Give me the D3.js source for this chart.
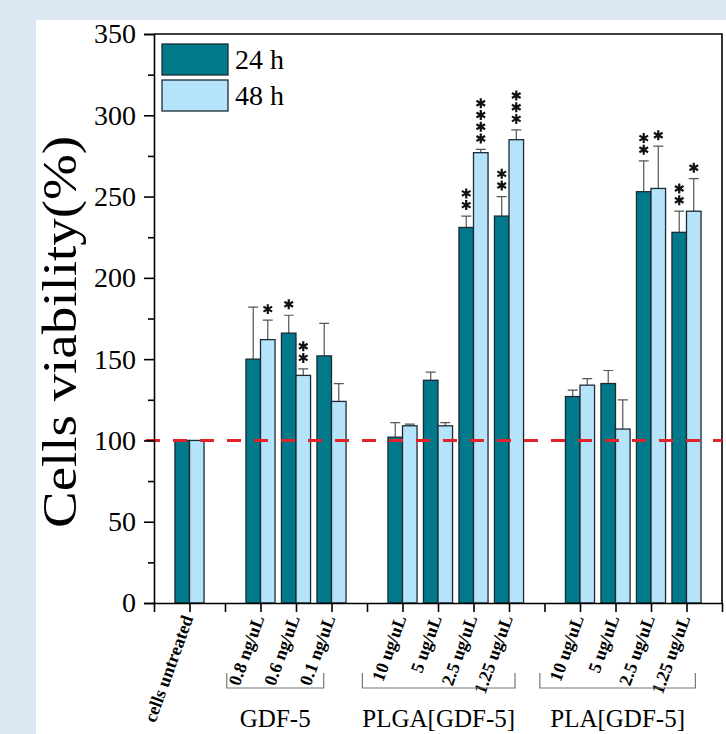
<!DOCTYPE html>
<html>
<head>
<meta charset="utf-8">
<script src="https://cdn.jsdelivr.net/npm/d3@7"></script>
<style>
  body { margin: 0; background: #dce6f2; }
  svg { display: block; }
  svg text { font-family: "Liberation Serif", "Times New Roman", Times, serif !important; fill: #000; }
</style>
</head>
<body>
<svg id="chart" width="726" height="734"></svg>
<script>
const width = 726;
const height = 734;

// Data
const categories = ["cells untreated", "0.8 ng/uL", "0.6 ng/uL", "0.1 ng/uL",
  "10 ug/uL", "5 ug/uL", "2.5 ug/uL", "1.25 ug/uL",
  "10 ug/uL", "5 ug/uL", "2.5 ug/uL", "1.25 ug/uL"];
const slots = [1, 3, 4, 5, 7, 8, 9, 10, 12, 13, 14, 15];
const values24 = [100, 150, 166, 152, 102, 137, 231, 238, 127, 135, 253, 228];
const err24 = [0, 32, 11, 20, 9, 5, 7, 12, 4, 8, 19, 13];
const values48 = [100, 162, 140, 124, 109, 109, 277, 285, 134, 107, 255, 241];
const err48 = [0, 12, 4, 11, 1, 2, 2, 6, 4, 18, 26, 20];
const stars24 = [0, 0, 1, 0, 0, 0, 2, 2, 0, 0, 2, 2];
const stars48 = [0, 1, 2, 0, 0, 0, 4, 3, 0, 0, 1, 1];
const groupNames = ["GDF-5", "PLGA[GDF-5]", "PLA[GDF-5]"];
const groupFirst = [1, 4, 8];
const groupLast = [3, 7, 11];
const seriesNames = ["24 h", "48 h"];
const yTicks = [0, 50, 100, 150, 200, 250, 300, 350];
const reference = 100;

const colors = ["#007a8a", "#b5e3fa"];
const bracketPad = [[-0.95, -0.22], [-1.13, 0.17], [-1.13, 0.25]];

const svg = d3.select('#chart');

// white panel
svg.append("rect")
  .attr("x", 36).attr("y", 20)
  .attr("width", width - 36).attr("height", height - 20)
  .attr("fill", "#fff");

const x = d3.scaleLinear().domain([0, 16]).range([154, 722]);
const y = d3.scaleLinear().domain([0, 350]).range([603, 34]);
const barW = x(0.41) - x(0);

// frame top and right
svg.append("path")
  .attr("d", `M${x(0)},${y(350)}H${x(16)}V${y(0)}`)
  .attr("fill", "none").attr("stroke", "#000").attr("stroke-width", 1.6);

// bars
const rows = categories.map((c, i) => ({
  i, slot: slots[i],
  v: [values24[i], values48[i]],
  e: [err24[i], err48[i]],
  s: [stars24[i], stars48[i]]
}));

const bars = [];
rows.forEach(r => {
  [0, 1].forEach(k => bars.push({ slot: r.slot, k, v: r.v[k], e: r.e[k], s: r.s[k] }));
});

const gBars = svg.append("g");

// error bars (upper only)
gBars.selectAll("path.err")
  .data(bars.filter(d => d.e > 0))
  .enter().append("path")
  .attr("d", d => {
    const cx = x(d.slot) + (d.k === 0 ? -barW / 2 : barW / 2);
    return `M${cx},${y(d.v)}V${y(d.v + d.e)}M${cx - 5},${y(d.v + d.e)}H${cx + 5}`;
  })
  .attr("fill", "none").attr("stroke", "#555").attr("stroke-width", 1.2);

gBars.selectAll("rect")
  .data(bars)
  .enter().append("rect")
  .attr("x", d => d.k === 0 ? x(d.slot) - barW : x(d.slot))
  .attr("y", d => y(d.v))
  .attr("width", barW)
  .attr("height", d => y(0) - y(d.v))
  .attr("fill", d => colors[d.k])
  .attr("stroke", "#1b2b33")
  .attr("stroke-width", 1.3);

// significance stars
const star = d3.symbol(d3.symbolAsterisk, 70);
bars.filter(d => d.s > 0).forEach(d => {
  const cx = x(d.slot) + (d.k === 0 ? -barW / 2 : barW / 2);
  const top = y(d.v + d.e);
  d3.range(d.s).forEach(j => {
    svg.append("path")
      .attr("d", star)
      .attr("transform", `translate(${cx},${top - 11 - j * 11.7})`)
      .attr("fill", "none").attr("stroke", "#111").attr("stroke-width", 2.2);
  });
});

// reference dashed line
svg.append("line")
  .attr("x1", 146).attr("x2", x(16))
  .attr("y1", y(reference)).attr("y2", y(reference))
  .attr("stroke", "#e3222a").attr("stroke-width", 3)
  .attr("stroke-dasharray", "14,13");

// y axis
const yAxis = svg.append("g")
  .attr("transform", `translate(${x(0)},0)`)
  .call(d3.axisLeft(y).tickValues(yTicks).tickSize(10).tickPadding(8).tickFormat(d3.format("d")));
yAxis.attr("font-family", null).attr("font-size", null);
yAxis.selectAll("text").style("font-size", "28px");
yAxis.selectAll("line, path").attr("stroke-width", 1.6);

const yMinor = svg.append("g")
  .attr("transform", `translate(${x(0)},0)`)
  .call(d3.axisLeft(y).tickValues(d3.range(25, 350, 50)).tickSize(6).tickFormat(""));
yMinor.select(".domain").remove();
yMinor.selectAll("line").attr("stroke-width", 1.6);

// x axis
const xAxis = svg.append("g")
  .attr("transform", `translate(0,${y(0)})`)
  .call(d3.axisBottom(x).tickValues(d3.range(0, 17)).tickSize(9).tickSizeOuter(0).tickFormat(""));
xAxis.selectAll("line, path").attr("stroke-width", 1.6);

// category labels
svg.append("g").selectAll("text")
  .data(rows)
  .enter().append("text")
  .attr("transform", d => `translate(${x(d.slot) + 4},618) rotate(-70)`)
  .attr("text-anchor", "end")
  .style("font-size", "18px")
  .style("font-weight", "bold")
  .text(d => categories[d.i]);

// group brackets
groupNames.forEach((name, g) => {
  const x0 = x(slots[groupFirst[g]] + bracketPad[g][0]);
  const x1 = x(slots[groupLast[g]] + bracketPad[g][1]);
  svg.append("path")
    .attr("d", `M${x0},673V688H${x1}V673`)
    .attr("fill", "none").attr("stroke", "#777").attr("stroke-width", 1.2);
  svg.append("text")
    .attr("x", (x0 + x1) / 2).attr("y", 727)
    .attr("text-anchor", "middle")
    .style("font-size", "25px")
    .text(name);
});

// y label
svg.append("text")
  .attr("transform", `translate(76,332) rotate(-90)`)
  .attr("text-anchor", "middle")
  .attr("textLength", 392)
  .attr("lengthAdjust", "spacingAndGlyphs")
  .style("font-size", "49px")
  .text("Cells viability(%)");

// legend
const legend = svg.append("g").attr("transform", "translate(162,44)");
seriesNames.forEach((name, k) => {
  legend.append("rect")
    .attr("x", 0).attr("y", k * 36)
    .attr("width", 66).attr("height", 31)
    .attr("fill", colors[k]).attr("stroke", "#1b2b33").attr("stroke-width", 1.3);
  legend.append("text")
    .attr("x", 73).attr("y", k * 36 + 25)
    .style("font-size", "28px")
    .text(name);
});
</script>
</body>
</html>
